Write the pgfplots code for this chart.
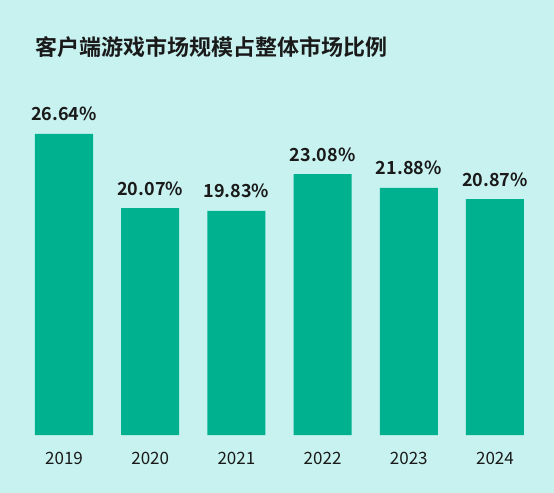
\documentclass[border=0pt]{standalone}
\usepackage{pgfplots}
\pgfplotsset{compat=1.18}
\usepackage{fontspec}
\setmainfont{Noto Sans CJK SC}[BoldFont={Noto Sans CJK SC Bold}]
\definecolor{bgcol}{HTML}{C8F2EF}
\definecolor{barcol}{HTML}{00B18F}
\definecolor{txt}{HTML}{1A1A1A}
\begin{document}
\begin{tikzpicture}[x=1bp,y=1bp]
\fill[bgcol] (-20.9bp,-58bp) rectangle (533.1bp,435bp);
\node[anchor=west, text=txt, font=\fontsize{22bp}{26bp}\selectfont\bfseries, inner sep=0pt] at (14bp,388bp) {客户端游戏市场规模占整体市场比例};
\begin{axis}[
  at={(0,0)}, anchor=south west,
  scale only axis,
  width=517.2bp, height=339bp,
  xmin=-0.5, xmax=5.5, ymin=0, ymax=30,
  axis line style={draw=none},
  major tick length=0pt,
  ytick=\empty,
  xtick=data,
  xticklabels={2019,2020,2021,2022,2023,2024},
  xticklabel style={anchor=base, yshift=-29bp, text=txt, font=\fontsize{17bp}{20bp}\selectfont, inner sep=0pt},
  ybar, bar width=58bp, bar shift=0pt,
  /pgf/number format/assume math mode=true,
  nodes near coords={\pgfmathprintnumber[fixed,precision=2,fixed zerofill]{\pgfplotspointmeta}\%},
  nodes near coords style={anchor=base, yshift=13bp, inner sep=0pt, text=txt, font=\fontsize{18bp}{21bp}\selectfont\bfseries},
  clip=false,
]
\addplot[fill=barcol, draw=none] coordinates {(0,26.64) (1,20.07) (2,19.83) (3,23.08) (4,21.88) (5,20.87)};
\end{axis}
\pgfresetboundingbox
\path[use as bounding box] (-20.9bp,-58bp) rectangle (533.1bp,435bp);
\end{tikzpicture}
\end{document}
